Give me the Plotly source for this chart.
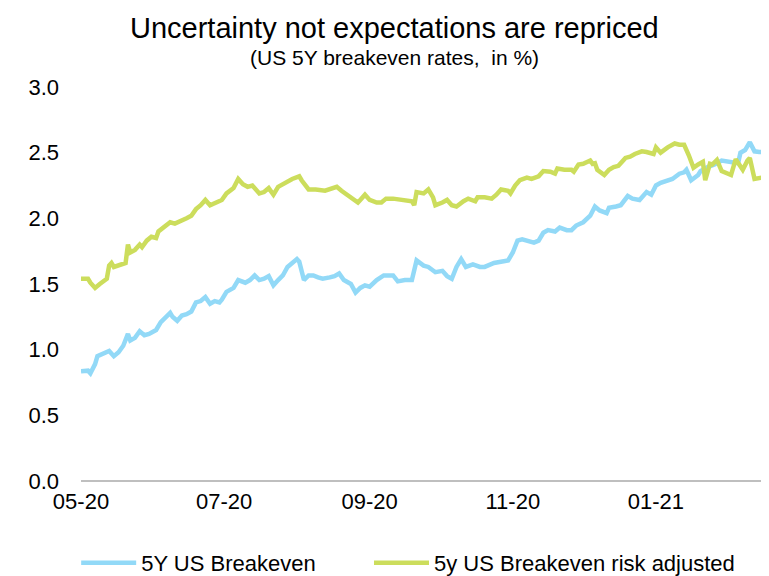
import pandas as pd
import plotly.graph_objects as go

START = pd.Timestamp("2020-05-01")

days_be = [0, 3, 4, 6, 7, 10, 12, 14, 16, 18, 20, 21, 23, 25, 27, 29, 32, 34, 36, 38,
           39, 41, 43, 45, 47, 49, 51, 53, 55, 57, 59, 60, 62, 65, 67, 70, 72, 74, 76, 78,
           80, 82, 84, 86, 88, 90, 92, 93, 95, 97, 99, 101, 103, 106, 108, 110, 112, 115, 117, 119,
           121, 123, 126, 129, 133, 135, 138, 141, 143, 146, 148, 151, 154, 156, 158, 160, 162, 164, 167, 170,
           172, 176, 179, 182, 184, 186, 188, 191, 193, 195, 197, 199, 202, 204, 207, 209, 211, 214, 217, 219,
           221, 224, 225, 228, 230, 233, 235, 238, 241, 243, 245, 247, 250, 252, 255, 257, 258, 260, 263, 264,
           267, 270, 273, 277, 280, 281, 283, 285, 287, 289, 292]
be_5y = [0.835, 0.84, 0.82, 0.89, 0.95, 0.97, 0.99, 0.95, 0.98, 1.03, 1.12, 1.07, 1.09, 1.14, 1.11, 1.12, 1.15, 1.21, 1.25, 1.28,
         1.25, 1.22, 1.26, 1.27, 1.29, 1.36, 1.37, 1.40, 1.35, 1.37, 1.36, 1.38, 1.44, 1.47, 1.53, 1.51, 1.53, 1.565, 1.53, 1.54,
         1.56, 1.49, 1.53, 1.565, 1.63, 1.66, 1.69, 1.67, 1.53, 1.565, 1.565, 1.55, 1.54, 1.55, 1.56, 1.58, 1.53, 1.50, 1.435, 1.47,
         1.49, 1.48, 1.53, 1.565, 1.565, 1.52, 1.53, 1.53, 1.68, 1.64, 1.63, 1.59, 1.60, 1.56, 1.54, 1.63, 1.69, 1.63, 1.65, 1.63,
         1.63, 1.66, 1.67, 1.68, 1.74, 1.83, 1.84, 1.83, 1.815, 1.83, 1.89, 1.91, 1.90, 1.93, 1.91, 1.91, 1.945, 1.97, 2.02, 2.09,
         2.06, 2.04, 2.08, 2.09, 2.10, 2.17, 2.15, 2.14, 2.20, 2.18, 2.25, 2.27, 2.29, 2.30, 2.34, 2.35, 2.37, 2.29, 2.33, 2.36,
         2.39, 2.41, 2.44, 2.43, 2.42, 2.50, 2.52, 2.58, 2.51, 2.505, 2.505]

days_ra = [0, 3, 4, 6, 8, 11, 12, 13, 14, 17, 19, 20, 21, 23, 25, 26, 28, 30, 32, 33,
           35, 38, 40, 43, 45, 47, 49, 51, 53, 55, 58, 60, 62, 65, 67, 69, 71, 73, 76, 78,
           80, 82, 84, 87, 89, 90, 93, 94, 97, 100, 104, 106, 109, 111, 114, 115, 118, 119, 121, 123,
           126, 128, 130, 133, 136, 138, 141, 142, 143, 146, 148, 150, 151, 154, 156, 158, 160, 163, 165, 168,
           169, 172, 175, 177, 179, 182, 183, 185, 187, 190, 192, 195, 197, 200, 202, 203, 206, 209, 210, 212,
           214, 217, 218, 219, 220, 223, 225, 227, 229, 232, 234, 236, 239, 241, 244, 245, 247, 250, 253, 255,
           257, 259, 261, 263, 265, 266, 268, 269, 271, 273, 277, 279, 282, 284, 285, 287, 290, 292]
be_5y_ra = [1.54, 1.54, 1.51, 1.47, 1.50, 1.54, 1.64, 1.66, 1.63, 1.65, 1.66, 1.80, 1.74, 1.76, 1.80, 1.78, 1.83, 1.86, 1.85, 1.90,
            1.93, 1.97, 1.96, 1.98, 2.00, 2.02, 2.07, 2.10, 2.14, 2.10, 2.12, 2.14, 2.19, 2.23, 2.30, 2.26, 2.24, 2.25, 2.19, 2.20,
            2.23, 2.18, 2.24, 2.27, 2.29, 2.30, 2.32, 2.29, 2.22, 2.22, 2.21, 2.22, 2.24, 2.21, 2.17, 2.16, 2.12, 2.14, 2.18, 2.14,
            2.12, 2.12, 2.15, 2.15, 2.14, 2.14, 2.13, 2.10, 2.20, 2.19, 2.22, 2.16, 2.10, 2.12, 2.14, 2.10, 2.09, 2.13, 2.15, 2.13,
            2.16, 2.16, 2.15, 2.18, 2.22, 2.21, 2.19, 2.25, 2.29, 2.31, 2.30, 2.32, 2.36, 2.355, 2.34, 2.38, 2.37, 2.37, 2.355, 2.41,
            2.415, 2.44, 2.415, 2.42, 2.37, 2.33, 2.37, 2.39, 2.40, 2.46, 2.47, 2.49, 2.51, 2.505, 2.49, 2.54, 2.50, 2.54, 2.57, 2.56,
            2.56, 2.48, 2.385, 2.41, 2.43, 2.29, 2.415, 2.41, 2.445, 2.36, 2.33, 2.45, 2.37, 2.44, 2.46, 2.30, 2.31, 2.33]

tick_dates = ["2020-05-01", "2020-07-01", "2020-09-01", "2020-11-01", "2021-01-01"]
tick_labels = ["05-20", "07-20", "09-20", "11-20", "01-21"]
y_ticks = [0.0, 0.5, 1.0, 1.5, 2.0, 2.5, 3.0]

x_be = START + pd.to_timedelta(days_be, unit="D")
x_ra = START + pd.to_timedelta(days_ra, unit="D")

FONT = "Liberation Sans, Arial, sans-serif"

fig = go.Figure()
fig.add_trace(go.Scatter(x=x_be, y=be_5y, mode="lines", name="5Y US Breakeven",
                         line=dict(color="#92D9F7", width=4.5), legend="legend"))
fig.add_trace(go.Scatter(x=x_ra, y=be_5y_ra, mode="lines", name="5y US Breakeven risk adjusted",
                         line=dict(color="#CCDD5C", width=4.5), legend="legend2"))

legend_common = dict(orientation="h", xanchor="left", y=-0.208, yanchor="middle",
                     font=dict(size=22, family=FONT), itemwidth=55,
                     bgcolor="rgba(0,0,0,0)")

fig.update_layout(
    width=769, height=576,
    margin=dict(l=73, r=7, t=79, b=103, autoexpand=False),
    paper_bgcolor="white", plot_bgcolor="white",
    font=dict(family=FONT, color="#000000", size=22),
    showlegend=True,
    legend=dict(x=-0.007, **legend_common),
    legend2=dict(x=0.418, **legend_common),
    annotations=[
        dict(text="Uncertainty not expectations are repriced", xref="paper", yref="paper",
             x=0.455, y=1.150, xanchor="center", yanchor="middle", showarrow=False,
             font=dict(size=29, family=FONT)),
        dict(text="(US 5Y breakeven rates,  in %)", xref="paper", yref="paper",
             x=0.455, y=1.074, xanchor="center", yanchor="middle", showarrow=False,
             font=dict(size=21, family=FONT)),
    ],
)
fig.update_xaxes(
    type="date", automargin=False,
    range=[START, START + pd.Timedelta(days=293.6)],
    tickmode="array", tickvals=tick_dates, ticktext=tick_labels,
    showgrid=False, zeroline=False, showline=False, ticks="",
    tickfont=dict(size=22), ticklabelstandoff=5,
)
fig.update_yaxes(
    range=[0, 3.0], tickmode="array", tickvals=y_ticks, automargin=False,
    tickformat=".1f", showgrid=False, zeroline=True, zerolinecolor="#BFBFBF", zerolinewidth=2,
    showline=False, ticks="", tickfont=dict(size=22), ticklabelstandoff=21,
)
fig.write_html("out.html")
